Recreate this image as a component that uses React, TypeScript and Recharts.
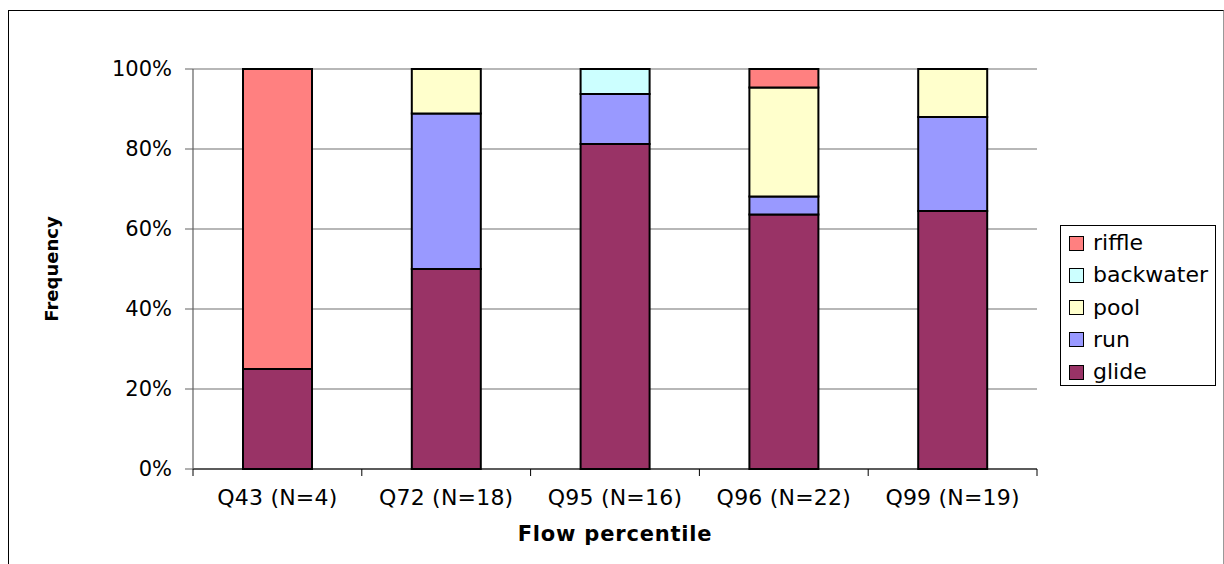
import { Bar, BarChart, CartesianGrid, Label, XAxis, YAxis } from "recharts";

const categories = ["Q43 (N=4)", "Q72 (N=18)", "Q95 (N=16)", "Q96 (N=22)", "Q99 (N=19)"];
const glide = [25, 50, 81.25, 63.6, 64.5];
const run = [0, 38.9, 12.5, 4.5, 23.5];
const pool = [0, 11.1, 0, 27.3, 12];
const backwater = [0, 0, 6.25, 0, 0];
const riffle = [75, 0, 0, 4.6, 0];
const yTicks = [0, 20, 40, 60, 80, 100];

// stacking order bottom -> top
const series = [
  { key: "glide", color: "#993366", values: glide },
  { key: "run", color: "#9999ff", values: run },
  { key: "pool", color: "#ffffcc", values: pool },
  { key: "backwater", color: "#ccffff", values: backwater },
  { key: "riffle", color: "#ff8080", values: riffle },
];

const data = categories.map((name, i) => {
  const row: Record<string, string | number> = { name };
  series.forEach((s) => {
    row[s.key] = s.values[i];
  });
  return row;
});

const font = "'DejaVu Sans', sans-serif";

function CategoryTick(props: any) {
  const { x, y, payload, index } = props;
  const half = payload && payload.offset ? payload.offset : 84.5;
  const top = y - 7;
  return (
    <g>
      <line x1={x - half} x2={x - half} y1={top} y2={top + 7} stroke="#000" />
      {index === categories.length - 1 && (
        <line x1={x + half} x2={x + half} y1={top} y2={top + 7} stroke="#000" />
      )}
      <text
        x={x}
        y={y + 29}
        textAnchor="middle"
        fill="#000"
        fontSize={22}
        letterSpacing={0.2}
        fontFamily={font}
      >
        {payload.value}
      </text>
    </g>
  );
}

function FrequencyLabel(props: any) {
  const vb = props.viewBox || { x: 0, y: 69, height: 400 };
  const cx = vb.x + 51;
  const cy = vb.y + vb.height / 2;
  return (
    <text
      x={cx}
      y={cy}
      transform={`rotate(-90 ${cx} ${cy})`}
      textAnchor="middle"
      dominantBaseline="central"
      fontSize={18}
      fontWeight="bold"
      fontFamily={font}
      fill="#000"
    >
      Frequency
    </text>
  );
}

function ChartLegend() {
  const items = series.slice().reverse();
  return (
    <div
      style={{
        position: "absolute",
        left: 1060,
        top: 225,
        width: 156,
        height: 161,
        border: "1px solid #000",
        background: "#fff",
        boxSizing: "border-box",
        fontFamily: font,
      }}
    >
      {items.map((s, i) => (
        <div
          key={s.key}
          style={{ position: "absolute", left: 8, top: 6 + i * 32.3, height: 22, display: "flex", alignItems: "center" }}
        >
          <span
            style={{
              width: 13,
              height: 13,
              background: s.color,
              border: "1px solid #000",
              display: "inline-block",
              marginRight: 9,
            }}
          />
          <span style={{ fontSize: 22, color: "#000", lineHeight: "22px" }}>{s.key}</span>
        </div>
      ))}
    </div>
  );
}

export default function App() {
  return (
    <div style={{ position: "absolute", left: 0, top: 0, width: 1224, height: 564, overflow: "hidden", background: "#fff" }}>
      <div
        style={{
          position: "absolute",
          left: 8,
          top: 10,
          width: 1216,
          height: 600,
          borderLeft: "1px solid #000",
          borderTop: "1px solid #000",
          borderRight: "1px solid #999",
          boxSizing: "border-box",
        }}
      />
      <div style={{ position: "absolute", left: 0, top: 0 }}>
        <BarChart width={1224} height={564} data={data} margin={{ top: 69, right: 187, bottom: 0, left: 0 }}>
          <CartesianGrid vertical={false} stroke="#707070" strokeWidth={1.2} />
          <XAxis
            dataKey="name"
            height={95}
            interval={0}
            tickLine={false}
            tickSize={7}
            tickMargin={0}
            axisLine={{ stroke: "#000", strokeWidth: 1.2 }}
            tick={<CategoryTick />}
          >
            <Label
              value="Flow percentile"
              position="insideBottom"
              offset={23}
              style={{ fontSize: 21, fontWeight: "bold", fontFamily: font, fill: "#000", letterSpacing: 0.8 }}
            />
          </XAxis>
          <YAxis
            width={193}
            domain={[0, 100]}
            ticks={yTicks}
            tickFormatter={(v) => `${v}%`}
            tickSize={8}
            tickMargin={13}
            axisLine={{ stroke: "#606060", strokeWidth: 1.2 }}
            tickLine={{ stroke: "#606060" }}
            tick={{ fill: "#000", fontSize: 21, fontFamily: font }}
          >
            <Label content={<FrequencyLabel />} />
          </YAxis>
          <YAxis
            yAxisId="frame"
            orientation="right"
            width={0}
            domain={[0, 100]}
            tick={false}
            tickLine={false}
            axisLine={{ stroke: "#808080", strokeWidth: 1.2 }}
          />
          {series.map((s) => (
            <Bar
              key={s.key}
              dataKey={s.key}
              stackId="a"
              fill={s.color}
              stroke="#000"
              strokeWidth={2}
              barSize={69}
              isAnimationActive={false}
            />
          ))}
        </BarChart>
      </div>
      <ChartLegend />
    </div>
  );
}
